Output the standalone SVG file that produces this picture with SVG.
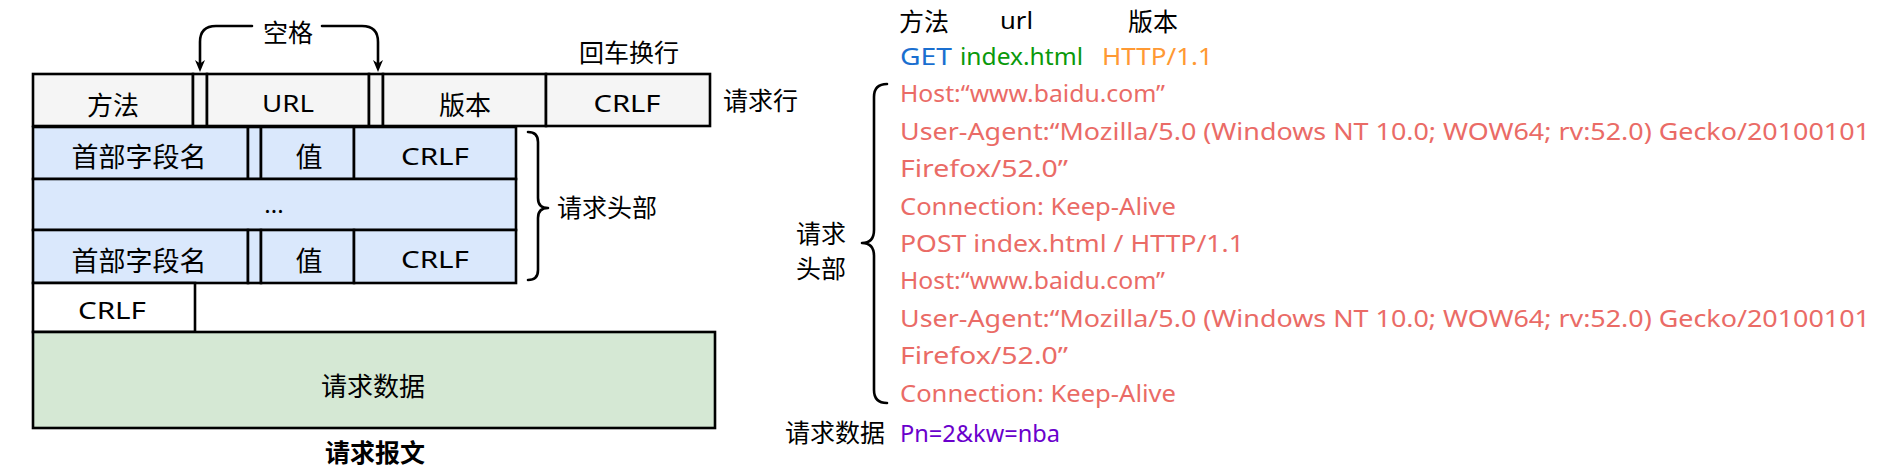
<svg xmlns="http://www.w3.org/2000/svg" width="1882" height="472" viewBox="0 0 1882 472">
  <style>
    .box { stroke: #000; stroke-width: 2.6; }
    .gray { fill: #f5f5f5; }
    .blue { fill: #dae8fc; }
    .green { fill: #d5e8d4; }
    .white { fill: #ffffff; }
    .t { font-family: "Noto Sans", "Noto Sans CJK SC", sans-serif; fill: #000; }
    .cjk { font-family: "Noto Sans CJK SC", "Noto Sans", sans-serif; fill: #000; }
    .c { text-anchor: middle; dominant-baseline: central; }
    .red { font-family: "Noto Sans", "Noto Sans CJK SC", sans-serif; fill: #ea6b66; font-size: 24px; }
    .line { fill: none; stroke: #000; stroke-width: 2.6; stroke-linecap: round; stroke-linejoin: round; }
  </style>
  <defs>
    <marker id="arr" viewBox="0 0 12 10" markerWidth="12" markerHeight="10" refX="4" refY="5" orient="auto" markerUnits="userSpaceOnUse">
      <path d="M0,0 L12,5 L0,10 L3.5,5 Z" fill="#000"/>
    </marker>
  </defs>
  <rect width="1882" height="472" fill="#ffffff"/>

  <!-- Request line -->
  <g id="request-line">
    <rect class="box gray" x="33" y="74" width="160" height="52"/>
    <rect class="box gray" x="193" y="74" width="14" height="52"/>
    <rect class="box gray" x="207" y="74" width="162" height="52"/>
    <rect class="box gray" x="369" y="74" width="14" height="52"/>
    <rect class="box gray" x="383" y="74" width="163" height="52"/>
    <rect class="box gray" x="546" y="74" width="164" height="52"/>
    <text class="cjk c" x="113" y="103" font-size="26">方法</text>
    <text class="t c" x="288" y="102" font-size="24" textLength="52" lengthAdjust="spacingAndGlyphs">URL</text>
    <text class="cjk c" x="465" y="103" font-size="26">版本</text>
    <text class="t c" x="627" y="102" font-size="24" textLength="67" lengthAdjust="spacingAndGlyphs">CRLF</text>
  </g>

  <!-- Header row 1 -->
  <g id="header-row-1">
    <rect class="box blue" x="33" y="127" width="215" height="52"/>
    <rect class="box blue" x="248" y="127" width="13" height="52"/>
    <rect class="box blue" x="261" y="127" width="93" height="52"/>
    <rect class="box blue" x="354" y="127" width="162" height="52"/>
    <text class="cjk c" x="139" y="155" font-size="27">首部字段名</text>
    <text class="cjk c" x="309" y="155" font-size="27">值</text>
    <text class="t c" x="435" y="155" font-size="24" textLength="68" lengthAdjust="spacingAndGlyphs">CRLF</text>
  </g>

  <!-- Header ellipsis row -->
  <g id="header-ellipsis">
    <rect class="box blue" x="33" y="179" width="483" height="51"/>
    <text class="t" x="274" y="213" font-size="24" text-anchor="middle">...</text>
  </g>

  <!-- Header row 2 -->
  <g id="header-row-2">
    <rect class="box blue" x="33" y="230" width="215" height="53"/>
    <rect class="box blue" x="248" y="230" width="13" height="53"/>
    <rect class="box blue" x="261" y="230" width="93" height="53"/>
    <rect class="box blue" x="354" y="230" width="162" height="53"/>
    <text class="cjk c" x="139" y="259" font-size="27">首部字段名</text>
    <text class="cjk c" x="309" y="259" font-size="27">值</text>
    <text class="t c" x="435" y="258" font-size="24" textLength="68" lengthAdjust="spacingAndGlyphs">CRLF</text>
  </g>

  <!-- Blank line CRLF -->
  <g id="blank-crlf">
    <rect class="box white" x="33" y="283" width="162" height="49"/>
    <text class="t c" x="112" y="309" font-size="24" textLength="68" lengthAdjust="spacingAndGlyphs">CRLF</text>
  </g>

  <!-- Request body -->
  <g id="request-body">
    <rect class="box green" x="33" y="332" width="682" height="96"/>
    <text class="cjk c" x="373" y="384" font-size="26">请求数据</text>
  </g>

  <!-- Left labels -->
  <g id="label-space">
    <text class="cjk c" x="288" y="31" font-size="25">空格</text>
  </g>
  <g id="label-crlf">
    <text class="cjk c" x="629" y="51" font-size="25">回车换行</text>
  </g>
  <g id="label-request-line">
    <text class="cjk" x="723" y="110" font-size="25">请求行</text>
  </g>
  <g id="label-request-header">
    <text class="cjk" x="557" y="217" font-size="25">请求头部</text>
  </g>
  <g id="label-title">
    <text class="cjk c" x="375" y="451" font-size="25" font-weight="bold">请求报文</text>
  </g>

  <!-- Right side example -->
  <g id="example-labels">
    <text class="cjk" x="899" y="31" font-size="25">方法</text>
    <text class="t" x="1000" y="29" font-size="24" textLength="33" lengthAdjust="spacingAndGlyphs">url</text>
    <text class="cjk" x="1128" y="31" font-size="25">版本</text>
  </g>
  <g id="example-request-line">
    <text class="t" x="900" y="65" font-size="24" fill="#0066cc" style="fill:#1a6fd0" textLength="52" lengthAdjust="spacingAndGlyphs">GET</text>
    <text class="t" x="960" y="65" font-size="24" style="fill:#0a990a" textLength="123" lengthAdjust="spacingAndGlyphs">index.html</text>
    <text class="t" x="1102" y="65" font-size="24" style="fill:#ff9933" textLength="111" lengthAdjust="spacingAndGlyphs">HTTP/1.1</text>
  </g>
  <g id="example-headers">
    <text class="red" x="900" y="102" textLength="265" lengthAdjust="spacingAndGlyphs">Host:“www.baidu.com”</text>
    <text class="red" x="900" y="139.5" textLength="970" lengthAdjust="spacingAndGlyphs">User-Agent:“Mozilla/5.0 (Windows NT 10.0; WOW64; rv:52.0) Gecko/20100101</text>
    <text class="red" x="900" y="177" textLength="168" lengthAdjust="spacingAndGlyphs">Firefox/52.0”</text>
    <text class="red" x="900" y="214.5" textLength="276" lengthAdjust="spacingAndGlyphs">Connection: Keep-Alive</text>
    <text class="red" x="900" y="252" textLength="344" lengthAdjust="spacingAndGlyphs">POST index.html / HTTP/1.1</text>
    <text class="red" x="900" y="289" textLength="265" lengthAdjust="spacingAndGlyphs">Host:“www.baidu.com”</text>
    <text class="red" x="900" y="326.5" textLength="970" lengthAdjust="spacingAndGlyphs">User-Agent:“Mozilla/5.0 (Windows NT 10.0; WOW64; rv:52.0) Gecko/20100101</text>
    <text class="red" x="900" y="364" textLength="168" lengthAdjust="spacingAndGlyphs">Firefox/52.0”</text>
    <text class="red" x="900" y="401.5" textLength="276" lengthAdjust="spacingAndGlyphs">Connection: Keep-Alive</text>
  </g>
  <g id="example-header-label">
    <text class="cjk c" x="821" y="232" font-size="25">请求</text>
    <text class="cjk c" x="821" y="267" font-size="25">头部</text>
  </g>
  <g id="example-body">
    <text class="cjk" x="785" y="442" font-size="25">请求数据</text>
    <text class="t" x="900" y="442" font-size="24" style="fill:#6a00cc" textLength="160" lengthAdjust="spacingAndGlyphs">Pn=2&amp;kw=nba</text>
  </g>

  <!-- Connectors -->
  <g id="connectors">
    <path class="line" d="M252,26 L216,26 Q200,26 200,42 L200,64" marker-end="url(#arr)"/>
    <path class="line" d="M322,26 L362,26 Q378,26 378,42 L378,64" marker-end="url(#arr)"/>
    <path class="line" d="M528,132 Q538,132 538,142 L538,198 Q538,208 548,208 Q538,208 538,218 L538,270 Q538,280 528,280"/>
    <path class="line" d="M887,84 Q874,84 874,97 L874,230 Q874,243 862,243 Q874,243 874,256 L874,390 Q874,403 887,403"/>
  </g>
</svg>
